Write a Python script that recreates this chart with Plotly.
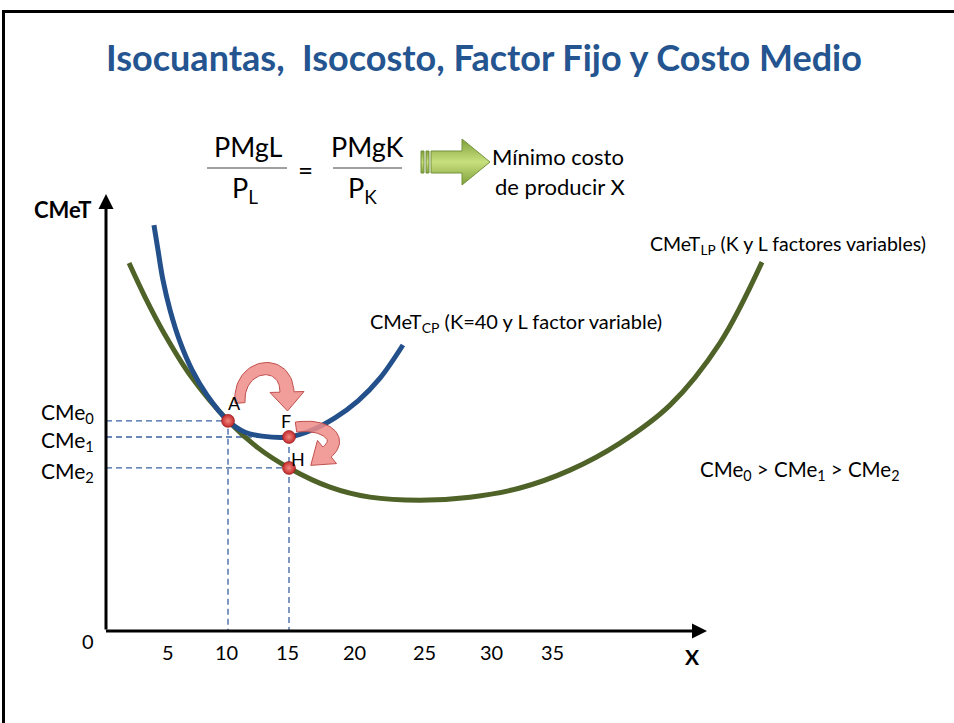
import plotly.graph_objects as go
import numpy as np

W, H = 954, 723
X0PX, XS = 106, 12.2
Y0PX, YS = 631, 4.36
def X(px): return (px - X0PX) / XS
def Y(py): return (Y0PX - py) / YS

# ---------------- data ----------------
cp_x = [3.93, 4.26, 4.67, 5.25, 6.07, 7.05, 8.28, 10.0, 11.39, 12.79, 15.0, 16.89, 18.77, 20.66, 22.46, 24.34]
cp_y = [93.1, 87.4, 80.5, 73.6, 66.3, 59.9, 54.1, 48.2, 45.6, 44.7, 44.5, 46.1, 48.9, 52.8, 58.0, 65.6]
lp_x = [1.89, 3.2, 4.84, 6.89, 10.0, 12.46, 15.0, 18.36, 21.64, 25.74, 29.84, 33.93, 38.03, 42.13, 46.23, 50.33, 53.77]
lp_y = [84.4, 76.6, 67.9, 58.7, 48.2, 42.0, 37.4, 33.0, 30.7, 30.0, 30.7, 32.8, 36.9, 43.1, 51.8, 66.1, 84.6]
pt_names = ["A", "F", "H"]
pt_x = [10, 15, 15]
pt_y = [48.2, 44.5, 37.4]
cme_labels = ["CMe<sub>0</sub>", "CMe<sub>1</sub>", "CMe<sub>2</sub>"]
cme_vals = [48.2, 44.5, 37.4]
tick_labels = ["5", "10", "15", "20", "25", "30", "35"]
tick_pos = [5.1, 9.9, 14.9, 20.4, 26.1, 31.6, 36.6]

FONT = "Lato"
BLUE = "#23508A"
GREEN = "#4F6228"
DASH = "#3A62A0"

fig = go.Figure()

# dashed guide lines
guides_x = [0, pt_x[0], pt_x[0], None, 0, pt_x[1], None, 0, pt_x[2], None, pt_x[1], pt_x[1]]
guides_y = [cme_vals[0], cme_vals[0], 0, None, cme_vals[1], cme_vals[1], None, cme_vals[2], cme_vals[2], None, cme_vals[1], 0]
fig.add_trace(go.Scatter(x=guides_x, y=guides_y, mode="lines",
                         line=dict(color=DASH, width=1.3, dash="6px,4px"), hoverinfo="skip"))

# curves
fig.add_trace(go.Scatter(x=lp_x, y=lp_y, mode="lines", line=dict(color=GREEN, width=5, shape="spline", smoothing=1.0)))
fig.add_trace(go.Scatter(x=cp_x, y=cp_y, mode="lines", line=dict(color=BLUE, width=5, shape="spline", smoothing=1.0)))

# curved pink arrows
def bez(P, t):
    P = np.array(P, float); t = np.asarray(t)[:, None]
    return (1-t)**3*P[0] + 3*(1-t)**2*t*P[1] + 3*(1-t)*t**2*P[2] + t**3*P[3]
def bezd(P, t):
    P = np.array(P, float); t = np.asarray(t)[:, None]
    return 3*(1-t)**2*(P[1]-P[0]) + 6*(1-t)*t*(P[2]-P[1]) + 3*t**2*(P[3]-P[2])
def curved_arrow(P, w0, w1, hw, hl, n=40):
    t = np.linspace(0, 1, n)
    c = bez(P, t); d = bezd(P, t)
    d = d / np.linalg.norm(d, axis=1)[:, None]
    nrm = np.stack([-d[:, 1], d[:, 0]], 1)
    w = (w0 + (w1 - w0) * t)[:, None] / 2
    left = c + nrm * w; right = c - nrm * w
    end = c[-1]; dv = d[-1]; nv = nrm[-1]
    tip = end + dv * hl
    h1 = end + nv * hw / 2; h2 = end - nv * hw / 2
    return np.vstack([left, h1, tip, h2, right[::-1], left[:1]])

arrows = [
    curved_arrow([(240, 403), (237, 363), (286, 356), (287, 392)], 10, 14, 34, 19),
    curved_arrow([(296, 427), (325, 423), (344, 438), (327, 452)], 10, 13, 30, 21),
]
for poly in arrows:
    fig.add_trace(go.Scatter(x=[X(p) for p in poly[:, 0]], y=[Y(p) for p in poly[:, 1]],
                             mode="lines", fill="toself", fillcolor="rgba(238,140,135,0.85)",
                             line=dict(color="#C0504D", width=1), hoverinfo="skip"))

# points
fig.add_trace(go.Scatter(x=pt_x, y=pt_y, mode="markers",
                         marker=dict(size=13, color="#C4282A", line=dict(color="#8B1A1A", width=0.6),
                                     gradient=dict(type="radial", color="#F08A80"))))

# green block arrow
def poly_trace(pts, fillgrad=None, fillcolor=None, lc="#76923C"):
    xs = [X(p[0]) for p in pts]
    ys = [Y(p[1]) for p in pts]
    kw = dict(x=xs, y=ys, mode="lines", fill="toself", line=dict(color=lc, width=1), hoverinfo="skip")
    if fillgrad:
        kw["fillgradient"] = fillgrad
    else:
        kw["fillcolor"] = fillcolor
    return go.Scatter(**kw)

grad = dict(type="vertical", colorscale=[[0, "#7EA03A"], [0.5, "#C8E07E"], [1, "#7EA03A"]])
fig.add_trace(poly_trace([(431, 151), (462, 151), (462, 139), (490, 162), (462, 185), (462, 173), (431, 173), (431, 151)], fillgrad=grad))
fig.add_trace(poly_trace([(421, 151), (424, 151), (424, 173), (421, 173), (421, 151)], fillgrad=grad))
fig.add_trace(poly_trace([(426, 151), (429, 151), (429, 173), (426, 173), (426, 151)], fillgrad=grad))

ann = []
def txt(px, py, text, size=18, bold=False, color="black", xanchor="center", yanchor="middle"):
    if bold:
        text = "<b>" + text + "</b>"
    ann.append(dict(x=X(px), y=Y(py), xref="x", yref="y", text=text, showarrow=False,
                    font=dict(family=FONT, size=size, color=color), xanchor=xanchor, yanchor=yanchor))

# axes with arrows
ann.append(dict(x=0, y=Y(194), ax=0, ay=0, xref="x", yref="y", axref="x", ayref="y", text="",
                showarrow=True, arrowhead=2, arrowsize=1, arrowwidth=3, arrowcolor="black"))
ann.append(dict(x=X(707), y=0, ax=X(104.5), ay=0, xref="x", yref="y", axref="x", ayref="y", text="",
                showarrow=True, arrowhead=2, arrowsize=1, arrowwidth=3, arrowcolor="black"))

# title
txt(484, 57, "Isocuantas,  Isocosto, Factor Fijo y Costo Medio", size=36, bold=True, color="#245590")

# formula
txt(248, 146, "PMgL", size=27)
txt(245, 189, "P<sub>L</sub>", size=27)
txt(305, 170, "=", size=26)
txt(367, 146, "PMgK", size=27)
txt(362, 189, "P<sub>K</sub>", size=27)
txt(490, 156, "Mínimo costo", size=22, xanchor="left")
txt(493, 186, "de producir X", size=22, xanchor="left")

# axis labels
txt(62, 209, "CMeT", size=22, bold=True)
txt(692, 656, "X", size=21, bold=True)
txt(88, 641, "0", size=20)
for lab, pos in zip(tick_labels, tick_pos):
    ann.append(dict(x=pos, y=Y(652), xref="x", yref="y", text=lab, showarrow=False,
                    font=dict(family=FONT, size=20, color="black"), xanchor="center", yanchor="middle"))
cme_offsets = [8, -4, -4]
for lab, v, off in zip(cme_labels, cme_vals, cme_offsets):
    ann.append(dict(x=X(96), y=v, xref="x", yref="y", text=lab, showarrow=False, yshift=off,
                    font=dict(family=FONT, size=21, color="black"), xanchor="right", yanchor="middle"))

# point labels
for name, x, y, dx, dy in zip(pt_names, pt_x, pt_y, [6, -3, 9], [-18, -16, -9]):
    ann.append(dict(x=x, y=y, xref="x", yref="y", text=name, showarrow=False, xshift=dx, yshift=-dy,
                    font=dict(family=FONT, size=18, color="black"), xanchor="center", yanchor="middle"))

# curve labels
txt(368, 322, "CMeT<sub>CP</sub> (K=40 y L factor variable)", size=20, xanchor="left")
txt(648, 245, "CMeT<sub>LP</sub> (K y L factores variables)", size=19.5, xanchor="left")
txt(698, 470, "CMe<sub>0</sub> > CMe<sub>1</sub> > CMe<sub>2</sub>", size=20.5, xanchor="left")

shapes = [
    dict(type="line", xref="x", yref="y", x0=X(207), x1=X(287), y0=Y(168), y1=Y(168), line=dict(color="#404040", width=1)),
    dict(type="line", xref="x", yref="y", x0=X(333), x1=X(402), y0=Y(168), y1=Y(168), line=dict(color="#404040", width=1)),
    dict(type="path", xref="paper", yref="paper",
         path=f"M {3.5/W},{-0.05} L {3.5/W},{1-11.5/H} L {1.05},{1-11.5/H}",
         line=dict(color="black", width=3)),
]

fig.update_layout(
    width=W, height=H, autosize=False,
    margin=dict(l=0, r=0, t=0, b=0),
    paper_bgcolor="white", plot_bgcolor="white",
    showlegend=False,
    xaxis=dict(range=[X(0), X(W)], visible=False, fixedrange=True),
    yaxis=dict(range=[Y(H), Y(0)], visible=False, fixedrange=True),
    annotations=ann, shapes=shapes,
    font=dict(family=FONT),
)

fig.write_html("out.html", config={"displayModeBar": False},
               post_script="document.body.style.margin='0px';")
